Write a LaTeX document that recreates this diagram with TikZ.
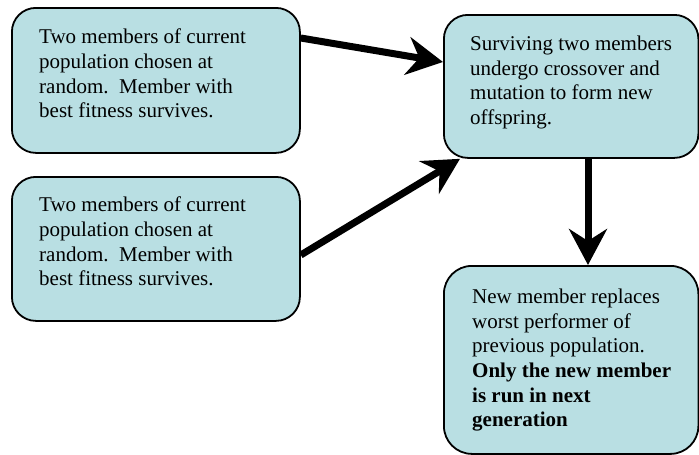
\documentclass[tikz,border=0pt]{standalone}
\usepackage{fontspec}
\setmainfont{Liberation Serif}
\newfontfamily\boxfont{Liberation Serif}
\usetikzlibrary{arrows.meta}
\definecolor{boxfill}{RGB}{185,223,227}
\begin{document}
\begin{tikzpicture}[x=1pt,y=-1pt,
  box/.style={draw=black, line width=1.8pt, fill=boxfill, rounded corners=24pt, inner sep=0pt, anchor=north west},
  txt/.style={anchor=north west, inner sep=0pt, align=left, font=\boxfont\fontsize{21}{24.7}\selectfont},
  flow/.style={line width=7pt, -{Stealth[length=36pt,width=38pt,inset=12pt]}}]
\useasboundingbox (0,0) rectangle (699,455);
\node[box, minimum width=288pt, minimum height=145pt] (b1) at (11,7) {};
\node[box, minimum width=288pt, minimum height=144pt] (b2) at (11,176) {};
\node[box, minimum width=254.5pt, minimum height=143pt] (b3) at (443,14) {};
\node[box, minimum width=254.5pt, minimum height=188pt, rounded corners=28pt] (b4) at (443,265) {};
\node[txt] (t1) at (39,28.7) {Two members of current\\population chosen at\\random.\ \ Member with\\best fitness survives.};
\node[txt] (t2) at (39,196.7) {Two members of current\\population chosen at\\random.\ \ Member with\\best fitness survives.};
\node[txt] (t3) at (470,35.7) {Surviving two members\\undergo crossover and\\mutation to form new\\offspring.};
\node[txt] (t4) at (472,288.7) {New member replaces\\worst performer of\\previous population.\\\textbf{Only the new member}\\\textbf{is run in next}\\\textbf{generation}};
\coordinate (s1) at ([yshift=-31pt]b1.north east);
\coordinate (e1) at ([yshift=-48pt]b3.north west);
\coordinate (s2) at ([yshift=-79pt]b2.north east);
\coordinate (e2) at ([xshift=17pt]b3.south west);
\coordinate (s3) at ([xshift=145pt]b3.south west);
\coordinate (e3) at ([xshift=145pt]b4.north west);
\draw[flow] (s1) -- (e1);
\draw[flow] (s2) -- (e2);
\draw[flow] (s3) -- (e3);
\end{tikzpicture}
\end{document}
